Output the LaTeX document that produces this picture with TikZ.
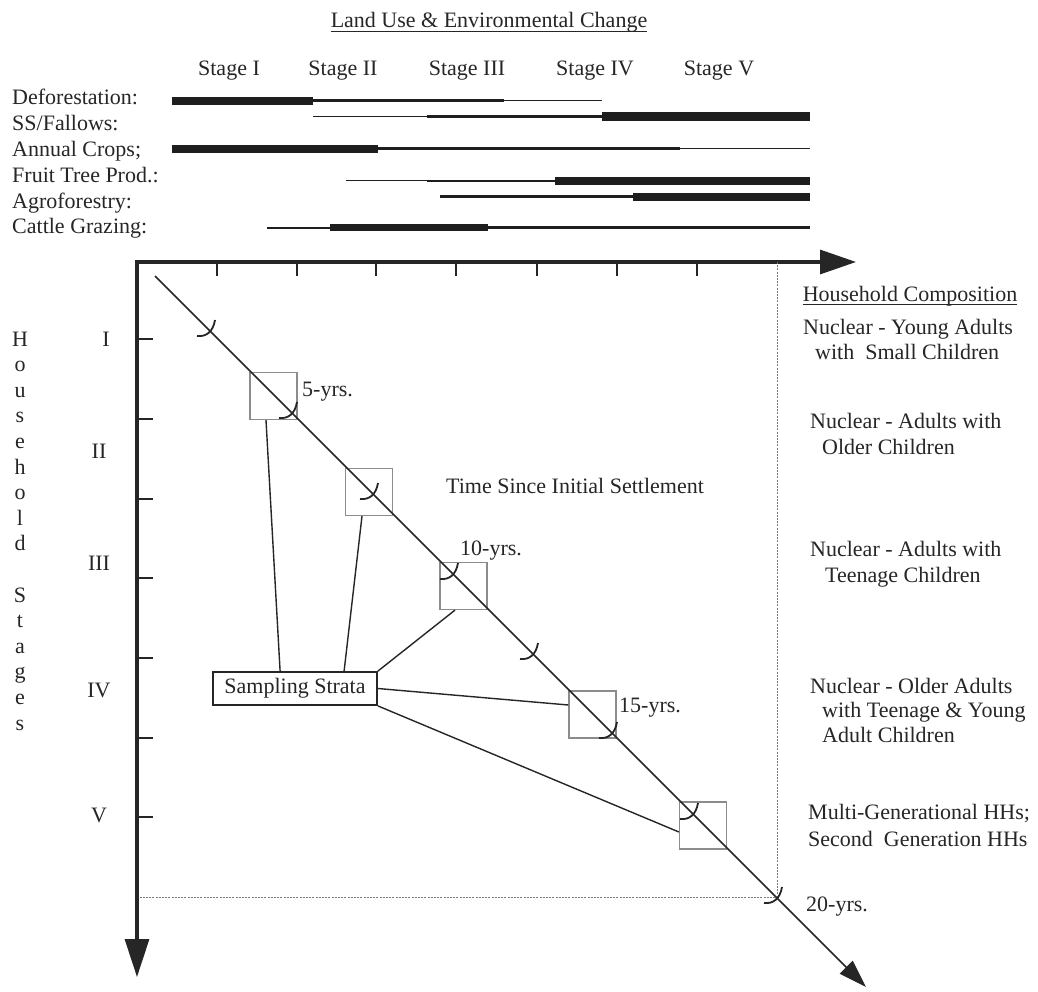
\documentclass[tikz,border=0pt]{standalone}
\usepackage{fontspec}
\setmainfont{Liberation Serif}
\usetikzlibrary{arrows.meta,calc}
\definecolor{ink}{HTML}{262626}
\definecolor{barc}{HTML}{1E1E1E}
\definecolor{boxc}{HTML}{8C8C8C}
\definecolor{guidec}{HTML}{7A7A7A}
\begin{document}
\begin{tikzpicture}[x=1pt,y=-1pt,
  txt/.style={font=\fontsize{22}{25.6}\selectfont, text=ink, inner sep=0pt},
  lft/.style={txt, anchor=base west},
  ctr/.style={txt, anchor=base},
  axisline/.style={draw=ink, line width=3.2pt},
  axtick/.style={draw=ink, line width=2pt},
  bar/.style={draw=barc, line cap=butt},
  agebox/.style={draw=boxc, line width=1.2pt, minimum size=47pt, inner sep=0pt},
  conn/.style={draw=ink, line width=1.4pt},
  diagline/.style={draw=ink, line width=1.5pt},
  guide/.style={draw=guidec, line width=0.9pt, dash pattern=on 2pt off 1.2pt},
  tickarc/.style={draw=ink, line width=1.8pt},
  uline/.style={draw=ink, line width=0.9pt}
]
\fill[white] (0,0) rectangle (1038,992);
\useasboundingbox (0,0) rectangle (1038,992);

% ---------- title and stages ----------
\node[ctr] (title) at (489,28) {Land Use \& Environmental Change};
\draw[uline] ($(title.base west)+(0,3.5)$) -- ($(title.base east)+(0,3.5)$);
\node[ctr] (st1) at (229,76) {Stage I};
\node[ctr] (st2) at (343,76) {Stage II};
\node[ctr] (st3) at (467,76) {Stage III};
\node[ctr] (st4) at (595,76) {Stage IV};
\node[ctr] (st5) at (719,76) {Stage V};

% ---------- land-use rows ----------
\node[lft] (r1) at (12,105) {Deforestation:};
\node[lft] (r2) at (12,130.8) {SS/Fallows:};
\node[lft] (r3) at (12,156.6) {Annual Crops;};
\node[lft] (r4) at (12,182.4) {Fruit Tree Prod.:};
\node[lft] (r5) at (12,208.2) {Agroforestry:};
\node[lft] (r6) at (12,234) {Cattle Grazing:};

\foreach \yy/\xa/\xb/\w in {
  101/172/313/7.5, 101/313/504/3, 101/504/602/1,
  117/313/427/1, 117/427/602/3, 117/602/810/9,
  149/172/378/8, 149/378/680/3, 149/680/810/1,
  181/346/427/1, 181/427/555/2.5, 181/555/810/8.5,
  197/440/633/3, 197/633/810/8,
  228/267/330/2, 228/330/488/7, 228/488/810/3}
  \draw[bar, line width=\w pt] (\xa,\yy) -- (\xb,\yy);

% ---------- axes ----------
\coordinate (origin) at (137,262);
\coordinate (xend) at (856,262);
\coordinate (yend) at (137,977);
\draw[axisline, {Triangle[length=38pt,width=24pt]}-{Triangle[length=36pt,width=24pt]}]
  (yend) -- (origin) -- (xend);
\foreach \tx in {217,297,376,456,537,617,697}
  \draw[axtick] (\tx,262) -- (\tx,276);
\foreach \ty in {339,419,499,578,658,738,817}
  \draw[axtick] (137,\ty) -- (153,\ty);

% guides
\coordinate (gtop) at (777,262);
\coordinate (gcorner) at (777,897);
\coordinate (gleft) at (140,897);
\draw[guide] (gtop) -- (gcorner) -- (gleft);

% vertical axis title
\foreach \ch [count=\i] in {H,o,u,s,e,h,o,l,d}
  \node[ctr] (hv\i) at (20,{346+25.6*(\i-1)}) {\ch};
\foreach \ch [count=\i] in {S,t,a,g,e,s}
  \node[ctr] (sv\i) at (20,{346+25.6*(\i+9)}) {\ch};

% roman numerals
\node[ctr] (n1) at (106,346) {I};
\node[ctr] (n2) at (99,458) {II};
\node[ctr] (n3) at (99,570) {III};
\node[ctr] (n4) at (99,697) {IV};
\node[ctr] (n5) at (99,822) {V};

% ---------- boxes ----------
\node[agebox] (b1) at (273.5,396) {};
\node[agebox] (b2) at (369,492) {};
\node[agebox] (b3) at (463.5,586) {};
\node[agebox] (b4) at (592.5,714.5) {};
\node[agebox] (b5) at (703,825.5) {};

% diagonal
\coordinate (dstart) at (155,276);
\coordinate (dend) at (866,987);
\draw[diagline, -{Triangle[length=28pt,width=18pt]}] (dstart) -- (dend);
\foreach \px/\py in {209/330, 291/412, 372/493, 452/573, 532/653, 611/732, 692/813, 776/897}
  \draw[tickarc, shift={(\px,\py)}] (-12,6) .. controls (-3,7) and (4,2) .. (6,-10);

% year labels
\node[lft] (y5) at (302,396) {5-yrs.};
\node[lft] (y10) at (460,555) {10-yrs.};
\node[lft] (y15) at (619,712) {15-yrs.};
\node[lft] (y20) at (806,911) {20-yrs.};
\node[ctr] (tsis) at (575,493) {Time Since Initial Settlement};

% sampling strata
\node[txt, draw=ink, line width=1.8pt, minimum width=164pt, minimum height=33pt] (ss) at (295,688.5) {Sampling Strata};
\draw[conn] ($(ss.north west)+(68,0)$) -- ($(b1.south)+(-7.5,0)$);
\draw[conn] ($(ss.north west)+(132,0)$) -- ($(b2.south)+(-7,0)$);
\draw[conn] (ss.north east) -- ($(b3.south)+(-8.5,0)$);
\draw[conn] (ss.east) -- ($(b4.west)+(0,-9.5)$);
\draw[conn] (ss.south east) -- ($(b5.west)+(0,6.5)$);

% ---------- household composition ----------
\node[ctr] (hc) at (910,301) {Household Composition};
\draw[uline] ($(hc.base west)+(0,3.5)$) -- ($(hc.base east)+(0,3.5)$);
\node[lft] (c1a) at (803,334) {Nuclear - Young Adults};
\node[lft] (c1b) at (815,359) {with\ \ Small Children};
\node[lft] (c2a) at (810,428) {Nuclear - Adults with};
\node[lft] (c2b) at (822,454) {Older Children};
\node[lft] (c3a) at (810,556) {Nuclear - Adults with};
\node[lft] (c3b) at (825,582) {Teenage Children};
\node[lft] (c4a) at (810,693) {Nuclear - Older Adults};
\node[lft] (c4b) at (822,717) {with Teenage \& Young};
\node[lft] (c4c) at (822,742) {Adult Children};
\node[lft] (c5a) at (808,819) {Multi-Generational HHs;};
\node[lft] (c5b) at (808,846) {Second\ \ Generation HHs};
\end{tikzpicture}
\end{document}
